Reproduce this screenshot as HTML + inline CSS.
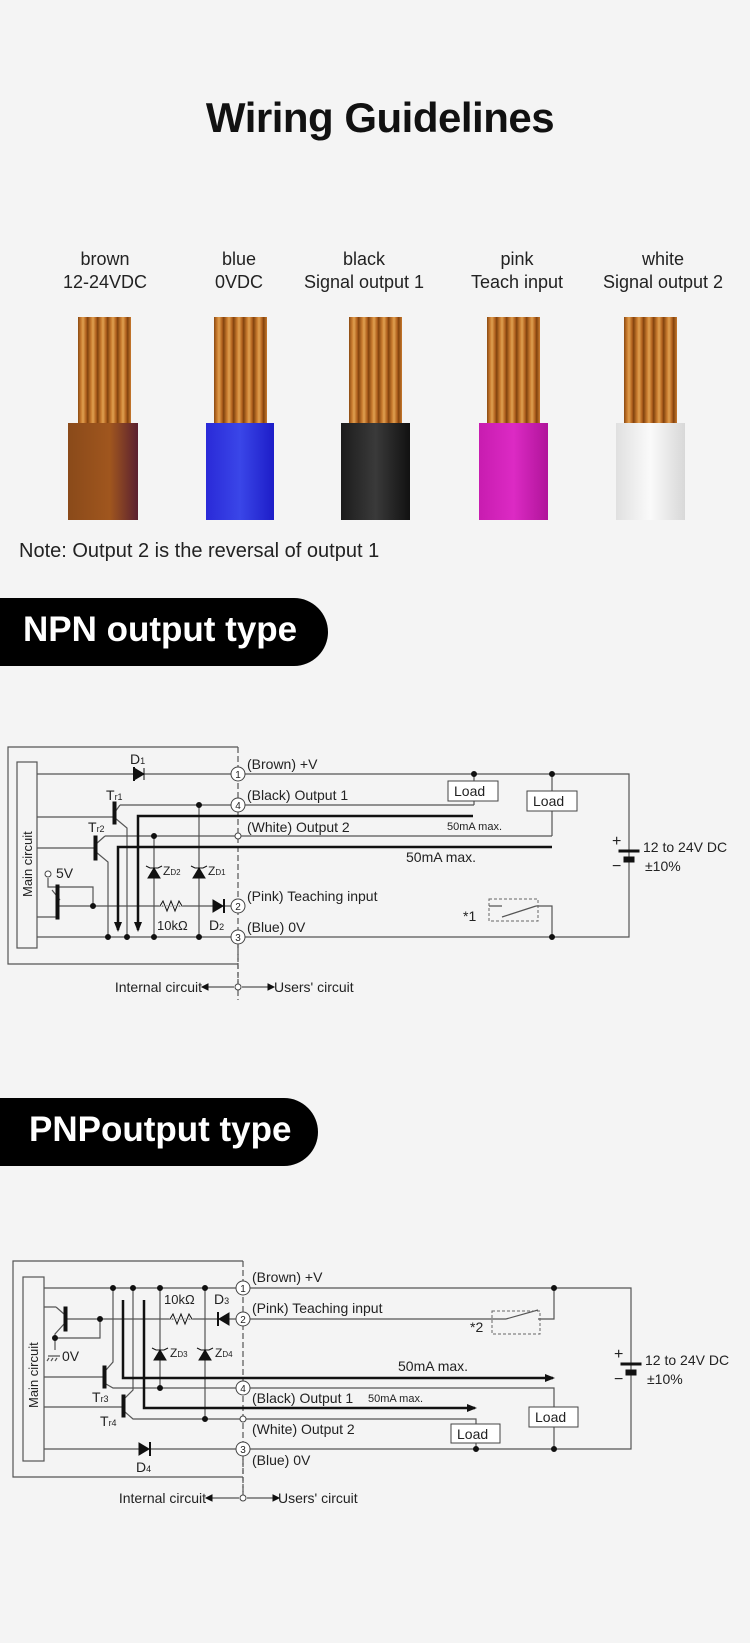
<!DOCTYPE html>
<html><head><meta charset="utf-8"><style>
html,body{margin:0;padding:0;background:#f4f4f4;}
body{width:750px;height:1643px;position:relative;overflow:hidden;font-family:"Liberation Sans",sans-serif;}
.t{position:absolute;}
.strand{position:absolute;background:repeating-linear-gradient(90deg,#8a4a12 0px,#c97a2e 3px,#e0a050 5px,#b2621e 8px,#7a3c0c 10px);}
.ins{position:absolute;}
.lbl{position:absolute;width:200px;text-align:center;font-size:18px;line-height:23px;color:#222;}
.banner{position:absolute;left:0;background:#000;color:#fff;font-weight:bold;}
svg text{font-family:"Liberation Sans",sans-serif;fill:#222;}
</style></head><body>
<div class="t" style="left:0;width:760px;top:94px;text-align:center;font-size:42px;font-weight:bold;color:#111;letter-spacing:-0.5px;">Wiring Guidelines</div>

<div class="lbl" style="left:5px;top:248px;">brown<br>12-24VDC</div>
<div class="lbl" style="left:139px;top:248px;">blue<br>0VDC</div>
<div class="lbl" style="left:264px;top:248px;">black<br>Signal output 1</div>
<div class="lbl" style="left:417px;top:248px;">pink<br>Teach input</div>
<div class="lbl" style="left:563px;top:248px;">white<br>Signal output 2</div>

<div class="strand" style="left:78px;top:317px;width:53px;height:108px;"></div>
<div class="ins" style="left:68px;top:423px;width:70px;height:97px;background:linear-gradient(90deg,#8a4a1a,#a0561e 60%,#5a2030);"></div>
<div class="strand" style="left:214px;top:317px;width:53px;height:108px;"></div>
<div class="ins" style="left:206px;top:423px;width:68px;height:97px;background:linear-gradient(90deg,#2a2ad8,#3a46e8 50%,#1d1dc8);"></div>
<div class="strand" style="left:349px;top:317px;width:53px;height:108px;"></div>
<div class="ins" style="left:341px;top:423px;width:69px;height:97px;background:linear-gradient(90deg,#1c1c1c,#3a3a3a 50%,#111);"></div>
<div class="strand" style="left:487px;top:317px;width:53px;height:108px;"></div>
<div class="ins" style="left:479px;top:423px;width:69px;height:97px;background:linear-gradient(90deg,#c81cb0,#dc2ac4 50%,#b0149a);"></div>
<div class="strand" style="left:624px;top:317px;width:53px;height:108px;"></div>
<div class="ins" style="left:616px;top:423px;width:69px;height:97px;background:linear-gradient(90deg,#e0e0e0,#fafafa 50%,#d8d8d8);"></div>

<div class="t" style="left:19px;top:540px;font-size:20px;color:#222;">Note: Output 2 is the reversal of output 1</div>

<div class="banner" style="top:598px;width:328px;height:68px;border-radius:0 34px 34px 0;"><span style="position:absolute;left:23px;top:12px;font-size:35px;">NPN output type</span></div>
<div class="banner" style="top:1098px;width:318px;height:68px;border-radius:0 34px 34px 0;"><span style="position:absolute;left:29px;top:12px;font-size:35px;">PNPoutput type</span></div>

<svg width="750" height="1643" style="position:absolute;left:0;top:0" xmlns="http://www.w3.org/2000/svg">
<defs>
<marker id="ad" markerUnits="userSpaceOnUse" markerWidth="10" markerHeight="8" refX="8" refY="4" orient="auto"><path d="M0,0 L10,4 L0,8 Z" fill="#111"/></marker>
</defs>
<g stroke="#555" stroke-width="1.2" fill="none">
<!-- NPN -->
<path d="M238,747 H8 V964 H238"/>
<path d="M238,747 V1000" stroke-dasharray="6,3"/>
<rect x="17" y="762" width="20" height="186" fill="#f4f4f4"/>
<path d="M37,774 H629 V937 H37"/>
<path d="M120,805 H474"/>
<path d="M474,774 V781 M474,801 V805"/>
<path d="M105,836 H552 M552,774 V791 M552,811 V836"/>
<path d="M37,817 H115 M37,848 H96"/>
<path d="M115,805 V824 M115,812 L120,805 M115,818 L127,828 V937"/>
<path d="M96,838 V858 M96,844 L105,836 M96,852 L108,862 V937"/>
<path d="M154,836 V937 M199,805 V937"/>
<path d="M57,906 H238 M48,878 V887 H93 V906 M52,890 L60,900 M37,917 H57"/>
<path d="M502,906 H489 M536,906 H552 V937 M502,917 L536,906"/>
<path d="M238,937 V986" stroke-dasharray="4,3"/>
<path d="M208,987 H234 M242,987 H268"/>
</g>
<g stroke="#111" stroke-width="2.5" fill="none">
<path d="M473,816 H138 V930" marker-end="url(#ad)"/>
<path d="M552,847 H118 V930" marker-end="url(#ad)"/>
</g>
<g fill="#111" stroke="#111" stroke-width="1">
<rect x="56" y="885" width="3" height="34"/>
<rect x="113" y="802" width="3" height="22"/>
<rect x="94" y="836" width="3" height="24"/>
<path d="M144,768 V780 M144,774 L134,768 V780 Z"/>
<path d="M134,767 V781" stroke-width="2"/>
<path d="M213,900 V912 L223,906 Z"/><path d="M224,899 V913" stroke-width="2"/>
<path d="M148,878 L160,878 L154,868 Z"/><path d="M146,866 L150,868 H158 L162,866" fill="none"/>
<path d="M193,878 L205,878 L199,868 Z"/><path d="M191,866 L195,868 H203 L207,866" fill="none"/>
<path d="M160,906 l3,-5 l4,10 l4,-10 l4,10 l4,-10 l3,5" fill="none" stroke="#f4f4f4" stroke-width="3"/>
<path d="M160,906 l3,-5 l4,10 l4,-10 l4,10 l4,-10 l3,5" fill="none"/>
<circle cx="474" cy="774" r="2.5"/><circle cx="552" cy="774" r="2.5"/><circle cx="199" cy="805" r="2.5"/><circle cx="154" cy="836" r="2.5"/>
<circle cx="93" cy="906" r="2.5"/><circle cx="108" cy="937" r="2.5"/><circle cx="127" cy="937" r="2.5"/><circle cx="154" cy="937" r="2.5"/><circle cx="199" cy="937" r="2.5"/><circle cx="552" cy="937" r="2.5"/>
<path d="M208,984 l-6,3 l6,3 Z M268,984 l6,3 l-6,3 Z"/>
<rect x="619" y="850" width="20" height="2"/><rect x="624" y="857" width="10" height="5"/>
</g>
<rect x="489" y="899" width="49" height="22" fill="none" stroke="#666" stroke-dasharray="3,2"/>
<rect x="448" y="781" width="50" height="20" fill="#fff" stroke="#444"/>
<rect x="527" y="791" width="50" height="20" fill="#fff" stroke="#444"/>
<g fill="#fff" stroke="#444">
<circle cx="238" cy="774" r="7"/><circle cx="238" cy="805" r="7"/><circle cx="238" cy="836" r="3"/><circle cx="238" cy="906" r="7"/><circle cx="238" cy="937" r="7"/><circle cx="238" cy="987" r="3"/><circle cx="48" cy="874" r="3"/>
</g>
<g font-size="10" text-anchor="middle">
<text x="238" y="778">1</text><text x="238" y="809">4</text><text x="238" y="910">2</text><text x="238" y="941">3</text>
</g>
<g font-size="14">
<text x="247" y="769">(Brown) +V</text>
<text x="247" y="800">(Black) Output 1</text>
<text x="247" y="832">(White) Output 2</text>
<text x="247" y="901">(Pink) Teaching input</text>
<text x="247" y="932">(Blue) 0V</text>
<text x="406" y="862">50mA max.</text>
<text x="447" y="830" font-size="11">50mA max.</text>
<text x="454" y="796">Load</text><text x="533" y="806">Load</text>
<text x="130" y="764">D<tspan font-size="9">1</tspan></text>
<text x="106" y="800">T<tspan font-size="9">r1</tspan></text>
<text x="88" y="832">T<tspan font-size="9">r2</tspan></text>
<text x="163" y="875" font-size="12">Z<tspan font-size="8">D2</tspan></text>
<text x="208" y="875" font-size="12">Z<tspan font-size="8">D1</tspan></text>
<text x="157" y="930" font-size="13">10kΩ</text>
<text x="209" y="930">D<tspan font-size="9">2</tspan></text>
<text x="56" y="878">5V</text>
<text x="463" y="921">*1</text>
<text x="643" y="852">12 to 24V DC</text>
<text x="645" y="871">±10%</text>
<text x="612" y="846" font-size="16">+</text><text x="612" y="871" font-size="16">−</text>
<text x="202" y="992" text-anchor="end">Internal circuit</text>
<text x="274" y="992">Users' circuit</text>
<text transform="translate(32,897) rotate(-90)" font-size="13">Main circuit</text>
</g>

<!-- PNP -->
<g stroke="#555" stroke-width="1.2" fill="none">
<path d="M243,1261 H13 V1477 H243"/>
<path d="M243,1261 V1500" stroke-dasharray="6,3"/>
<rect x="23" y="1277" width="21" height="184" fill="#f4f4f4"/>
<path d="M44,1288 H631 V1449 H44"/>
<path d="M66,1319 H506 M538,1319 H554 V1288 M506,1319 L538,1310"/>
<path d="M44,1307 H56 M56,1307 L64,1314 M64,1324 L55,1334 V1350 M55,1338 H100 V1319"/>
<path d="M160,1288 V1388 M205,1288 V1419"/>
<path d="M44,1377 H103 M106,1370 L113,1362 V1288 M106,1384 L113,1388 H554 V1407 M554,1427 V1449"/>
<path d="M44,1407 H122 M125,1398 L133,1390 V1288 M125,1412 L133,1419 H476 V1424 M476,1443 V1449"/>
<path d="M243,1449 V1496" stroke-dasharray="4,3"/>
<path d="M212,1498 H239 M247,1498 H273"/>
<path d="M48,1356 H60 M49,1358 l-2,3 M53,1358 l-2,3 M57,1358 l-2,3"/>
</g>
<g stroke="#111" stroke-width="2.5" fill="none">
<path d="M123,1300 V1378 H553" marker-end="url(#ad)"/>
<path d="M144,1300 V1408 H475" marker-end="url(#ad)"/>
</g>
<g fill="#111" stroke="#111" stroke-width="1">
<rect x="64" y="1307" width="3" height="24"/>
<rect x="103" y="1366" width="3" height="22"/>
<rect x="122" y="1395" width="3" height="22"/>
<path d="M229,1313 V1325 L219,1319 Z"/><path d="M218,1312 V1326" stroke-width="2"/>
<path d="M139,1443 V1455 L149,1449 Z"/><path d="M150,1442 V1456" stroke-width="2"/>
<path d="M154,1360 L166,1360 L160,1350 Z"/><path d="M152,1348 L156,1350 H164 L168,1348" fill="none"/>
<path d="M199,1360 L211,1360 L205,1350 Z"/><path d="M197,1348 L201,1350 H209 L213,1348" fill="none"/>
<path d="M170,1319 l3,-5 l4,10 l4,-10 l4,10 l4,-10 l3,5" fill="none" stroke="#f4f4f4" stroke-width="3"/>
<path d="M170,1319 l3,-5 l4,10 l4,-10 l4,10 l4,-10 l3,5" fill="none"/>
<circle cx="113" cy="1288" r="2.5"/><circle cx="133" cy="1288" r="2.5"/><circle cx="160" cy="1288" r="2.5"/><circle cx="205" cy="1288" r="2.5"/><circle cx="554" cy="1288" r="2.5"/>
<circle cx="100" cy="1319" r="2.5"/><circle cx="55" cy="1338" r="2.5"/><circle cx="160" cy="1388" r="2.5"/><circle cx="205" cy="1419" r="2.5"/>
<circle cx="476" cy="1449" r="2.5"/><circle cx="554" cy="1449" r="2.5"/>
<path d="M212,1495 l-6,3 l6,3 Z M273,1495 l6,3 l-6,3 Z"/>
<rect x="621" y="1363" width="20" height="2"/><rect x="626" y="1370" width="10" height="5"/>
</g>
<rect x="492" y="1311" width="48" height="23" fill="none" stroke="#666" stroke-dasharray="3,2"/>
<rect x="451" y="1424" width="49" height="19" fill="#fff" stroke="#444"/>
<rect x="529" y="1407" width="49" height="20" fill="#fff" stroke="#444"/>
<g fill="#fff" stroke="#444">
<circle cx="243" cy="1288" r="7"/><circle cx="243" cy="1319" r="7"/><circle cx="243" cy="1388" r="7"/><circle cx="243" cy="1419" r="3"/><circle cx="243" cy="1449" r="7"/><circle cx="243" cy="1498" r="3"/>
</g>
<g font-size="10" text-anchor="middle">
<text x="243" y="1292">1</text><text x="243" y="1323">2</text><text x="243" y="1392">4</text><text x="243" y="1453">3</text>
</g>
<g font-size="14">
<text x="252" y="1282">(Brown) +V</text>
<text x="252" y="1313">(Pink) Teaching input</text>
<text x="398" y="1371">50mA max.</text>
<text x="252" y="1403">(Black) Output 1</text>
<text x="368" y="1402" font-size="11">50mA max.</text>
<text x="252" y="1434">(White) Output 2</text>
<text x="252" y="1465">(Blue) 0V</text>
<text x="457" y="1439">Load</text><text x="535" y="1422">Load</text>
<text x="164" y="1304" font-size="13">10kΩ</text>
<text x="214" y="1304">D<tspan font-size="9">3</tspan></text>
<text x="170" y="1357" font-size="12">Z<tspan font-size="8">D3</tspan></text>
<text x="215" y="1357" font-size="12">Z<tspan font-size="8">D4</tspan></text>
<text x="92" y="1402">T<tspan font-size="9">r3</tspan></text>
<text x="100" y="1426">T<tspan font-size="9">r4</tspan></text>
<text x="136" y="1472">D<tspan font-size="9">4</tspan></text>
<text x="62" y="1361">0V</text>
<text x="470" y="1332">*2</text>
<text x="645" y="1365">12 to 24V DC</text>
<text x="647" y="1384">±10%</text>
<text x="614" y="1359" font-size="16">+</text><text x="614" y="1384" font-size="16">−</text>
<text x="206" y="1503" text-anchor="end">Internal circuit</text>
<text x="278" y="1503">Users' circuit</text>
<text transform="translate(38,1408) rotate(-90)" font-size="13">Main circuit</text>
</g>
</svg>
</body></html>
